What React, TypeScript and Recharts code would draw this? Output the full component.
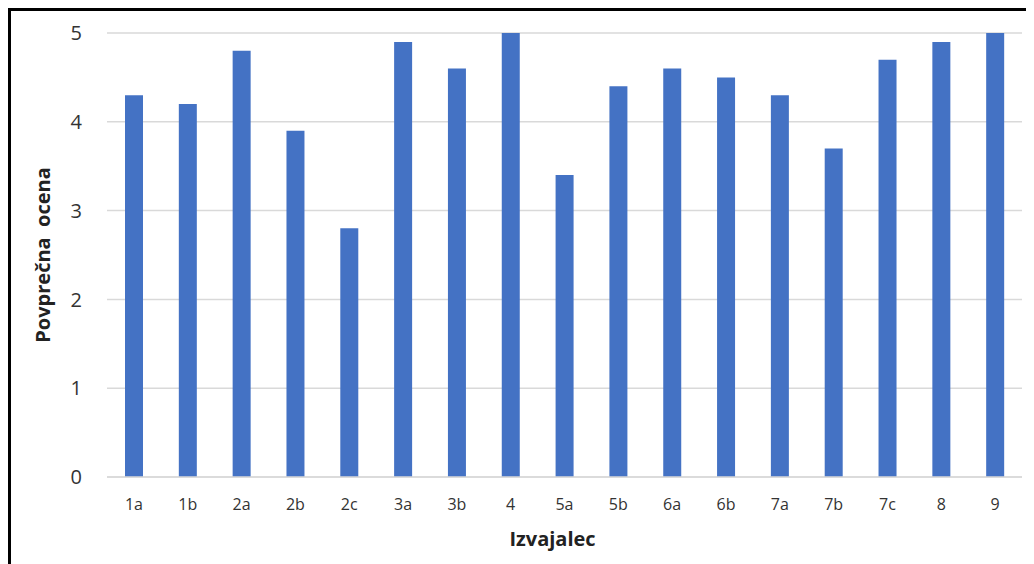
import { BarChart, Bar, XAxis, YAxis, CartesianGrid, Label } from "recharts";

const categories = ["1a", "1b", "2a", "2b", "2c", "3a", "3b", "4", "5a", "5b", "6a", "6b", "7a", "7b", "7c", "8", "9"];
const averages = [4.3, 4.2, 4.8, 3.9, 2.8, 4.9, 4.6, 5.0, 3.4, 4.4, 4.6, 4.5, 4.3, 3.7, 4.7, 4.9, 5.0];
const yTicks = [0, 1, 2, 3, 4, 5];

const COLORS = {
  bar: "#4472C4",
  grid: "#d9d9d9",
  tick: "#333333",
  title: "#222222",
};

const FONT = "'Open Sans', 'Noto Sans', sans-serif";

const data = categories.map((name, i) => ({ name, value: averages[i] }));

function YTitle({ viewBox }: { viewBox?: { x: number; y: number; width: number; height: number } }) {
  if (!viewBox) return null;
  const x = viewBox.x + 31;
  const y = viewBox.y + viewBox.height / 2;
  return (
    <text
      x={x}
      y={y}
      transform={`rotate(-90 ${x} ${y})`}
      textAnchor="middle"
      dominantBaseline="central"
      fill={COLORS.title}
      fontFamily={FONT}
      fontWeight={700}
      fontSize={20}
      style={{ whiteSpace: "pre" }}
    >
      Povprečna  ocena
    </text>
  );
}

function XTitle({ viewBox }: { viewBox?: { x: number; y: number; width: number; height: number } }) {
  if (!viewBox) return null;
  return (
    <text
      x={viewBox.x + viewBox.width / 2 - 12}
      y={viewBox.y + 61}
      textAnchor="middle"
      dominantBaseline="central"
      fill={COLORS.title}
      fontFamily={FONT}
      fontWeight={700}
      fontSize={20}
    >
      Izvajalec
    </text>
  );
}

export default function App() {
  return (
    <div
      style={{
        width: 1026,
        height: 556,
        boxSizing: "border-box",
        borderTop: "3px solid #000",
        borderLeft: "3px solid #000",
        background: "#fff",
      }}
    >
      <BarChart
        width={1023}
        height={553}
        data={data}
        margin={{ top: 22, right: 12, left: 0, bottom: 0 }}
      >
        <CartesianGrid vertical={false} stroke={COLORS.grid} strokeWidth={1.5} />
        <XAxis
          dataKey="name"
          height={87}
          tickLine={false}
          axisLine={{ stroke: COLORS.grid, strokeWidth: 1.5 }}
          tickMargin={16}
          interval={0}
          tick={{ fill: COLORS.tick, fontSize: 16, fontFamily: FONT }}
        >
          <Label content={<XTitle />} />
        </XAxis>
        <YAxis
          width={96}
          domain={[0, 5]}
          ticks={yTicks}
          tickLine={false}
          axisLine={false}
          tickMargin={19}
          tick={{ fill: COLORS.tick, fontSize: 20, fontFamily: FONT }}
        >
          <Label content={<YTitle />} />
        </YAxis>
        <Bar dataKey="value" fill={COLORS.bar} barSize={18} isAnimationActive={false} />
      </BarChart>
    </div>
  );
}
